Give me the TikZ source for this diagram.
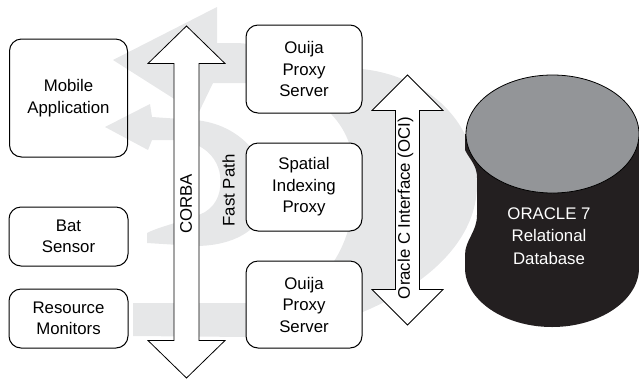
\documentclass[tikz,border=0pt]{standalone}
\usepackage{fontspec}
\setmainfont{Liberation Sans}
\definecolor{swoosh}{RGB}{230,231,232}
\definecolor{dbtop}{RGB}{147,149,152}
\definecolor{dbbody}{RGB}{35,31,32}
\tikzset{
	unit/.style = {rectangle, draw=black, rounded corners=12pt, line width=1pt,
	  align=center, font=\fontsize{16.8}{21.5}\selectfont},
	label/.style = {font=\fontsize{16.8}{21.5}\selectfont, rotate=90, inner sep=0pt}}
\tikzset{
	pics/busarrow/.style n args = {4}{code = {
	 % #1 half length, #2 head length, #3 head half width, #4 shaft half width
	 \coordinate (-top) at (0,-#1) ;
	 \coordinate (-bottom) at (0,#1) ;
	 \draw [fill=white, line width=0.8pt, line join=miter]
	   (-top) -- (#3,-#1+#2) -- (#4,-#1+#2) -- (#4,#1-#2) -- (#3,#1-#2)
	   -- (-bottom) -- (-#3,#1-#2) -- (-#4,#1-#2) -- (-#4,-#1+#2)
	   -- (-#3,-#1+#2) -- cycle;
	 }}}

\begin{document}
\begin{tikzpicture}[x=1pt, y=-1pt]
\useasboundingbox (0,0) rectangle (639,381);

% BACKGROUND SWOOSHES
\fill [swoosh] (133,303) -- (133,336) -- (250,337)
  .. controls (325,338) and (474,284) .. (477,187)
  .. controls (477,115) and (420,75) .. (362,69)
  .. controls (310,63) and (265,43) .. (235,43)
  -- (217,43) -- (217,7) -- (113,60) -- (198,114) -- (213,83) -- (245,83)
  .. controls (310,85) and (355,115) .. (355,180)
  .. controls (355,250) and (320,303) .. (255,303) -- cycle;
\fill [swoosh] (105,127) -- (150,104) -- (152,117) -- (195,120)
  .. controls (240,124) and (268,158) .. (268,192)
  .. controls (268,226) and (238,246) .. (195,246)
  -- (147,243) -- (147,233)
  .. controls (160,226) and (190,220) .. (205,212)
  .. controls (218,204) and (222,190) .. (220,175)
  .. controls (217,155) and (200,141) .. (175,140)
  -- (152,140) -- (148,150) -- cycle;

% NODES
\node (mobile) [unit, minimum width=118pt, minimum height=118pt] at (68.5,98) {Mobile\\Application};
\node (bat) [unit, minimum width=119pt, minimum height=59pt] at (68.5,236.5) {Bat\\Sensor};
\node (monitors) [unit, minimum width=119pt, minimum height=59pt] at (68.5,318.5) {Resource\\Monitors};
\node (ouijatop) [unit, fill=white, minimum width=116pt, minimum height=88pt] at (304,69) {Ouija\\Proxy\\Server};
\node (spatial) [unit, fill=white, minimum width=116pt, minimum height=88pt] at (304,187) {Spatial\\Indexing\\Proxy};
\node (ouijabot) [unit, fill=white, minimum width=116pt, minimum height=87pt] at (304,304.5) {Ouija\\Proxy\\Server};

% BUSES
\pic (corba) at (186.5,202) {busarrow={176}{37.5}{38.5}{12.5}};
\pic (oci) at (407.5,200) {busarrow={125}{35.5}{35.5}{12}};
\node (corbalabel) [label] at (186,204) {CORBA};
\node (fastpath) [label] at (228.5,190.5) {Fast Path};
\node (ocilabel) [label] at (405.5,208) {Oracle C Interface (OCI)};

% DATABASE
\fill [dbbody] (465,134) -- (465,150) .. controls (470,160) and (477,165) .. (477,178)
  -- (477,215) .. controls (477,232) and (465,240) .. (465,255) -- (465,268)
  .. controls (465,300) and (504,327) .. (552,327)
  .. controls (600,327) and (639,300) .. (639,268) -- (639,134) -- cycle;
\filldraw [fill=dbtop, draw=black, line width=0.8pt] (552.5,134) ellipse [x radius=86.5, y radius=59];
\node (oracle) [align=center, text=white, font=\fontsize{16.8}{22.5}\selectfont] at (549,236) {ORACLE 7\\Relational\\Database};

\end{tikzpicture}
\end{document}
